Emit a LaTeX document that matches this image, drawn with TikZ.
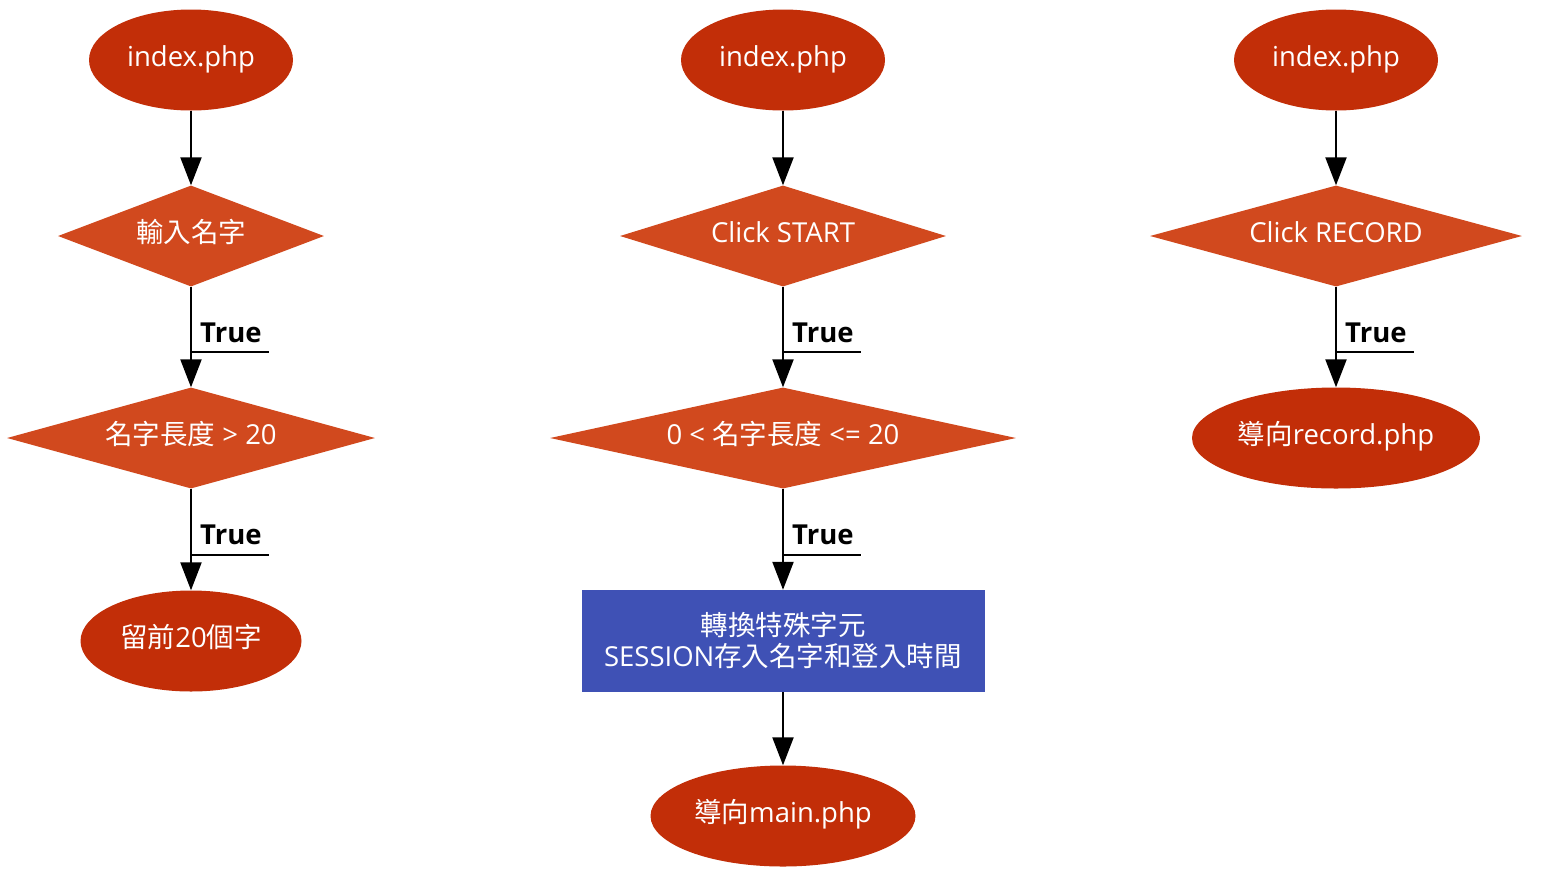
\documentclass[tikz,border=0pt]{standalone}
\usepackage{fontspec}
\setmainfont{Open Sans}
\newfontfamily\cjk{Noto Sans CJK TC}
\usetikzlibrary{shapes.geometric,arrows.meta}
\definecolor{ellc}{HTML}{C22E08}
\definecolor{diac}{HTML}{D1491E}
\definecolor{boxc}{HTML}{3F51B5}
\tikzset{
  base/.style={text=white, font=\fontsize{27.5}{31}\selectfont, inner sep=0pt, align=center},
  oneline/.style={text height=21pt, text depth=8.5pt},
  term/.style={base, oneline, ellipse, fill=ellc, minimum height=101pt},
  cond/.style={base, oneline, diamond, fill=diac, minimum height=101pt},
  proc/.style={base, rectangle, fill=boxc, minimum height=102pt},
  conn/.style={line width=2.2pt, -{Triangle[length=28pt,width=21pt]}},
  tlab/.style={font=\fontsize{27.5}{31}\selectfont\bfseries, inner sep=0pt, anchor=base west},
  uline/.style={line width=2pt}
}
\begin{document}
\begin{tikzpicture}[x=1pt,y=-1pt]
\useasboundingbox (0,0) rectangle (1544,892);
% column 1
\node[term, minimum width=204pt] (a1) at (191,60) {index.php};
\node[cond, minimum width=266pt, shape aspect=2.66] (a2) at (191,236) {{\cjk 輸入名字}};
\node[cond, minimum width=368pt, shape aspect=3.68] (a3) at (191,438) {{\cjk 名字長度} > 20};
\node[term, minimum width=221pt] (a4) at (191,641) {{\cjk 留前}20{\cjk 個字}};
\draw[conn] (a1) -- (a2);
\draw[conn] (a2) -- (a3);
\draw[conn] (a3) -- (a4);
\node[tlab] (ta2) at (200,342) {True};
\node[tlab] (ta3) at (200,544) {True};
\coordinate (ua2) at (191,352);
\coordinate (ua3) at (191,555);
\draw[uline] (ua2) -- ++(78,0);
\draw[uline] (ua3) -- ++(78,0);
% column 2
\node[term, minimum width=204pt] (b1) at (783,60) {index.php};
\node[cond, minimum width=326pt, shape aspect=3.26] (b2) at (783,236) {Click START};
\node[cond, minimum width=466pt, shape aspect=4.66] (b3) at (783,438) {0 < {\cjk 名字長度} <= 20};
\node[proc, minimum width=403pt] (b4) at (783,641) {{\cjk 轉換特殊字元}\\SESSION{\cjk 存入名字和登入時間}\\[-27pt]};
\node[term, minimum width=265pt] (b5) at (783,816) {{\cjk 導向}main.php};
\draw[conn] (b1) -- (b2);
\draw[conn] (b2) -- (b3);
\draw[conn] (b3) -- (b4);
\draw[conn] (b4) -- (b5);
\node[tlab] (tb2) at (792,342) {True};
\node[tlab] (tb3) at (792,544) {True};
\coordinate (ub2) at (783,352);
\coordinate (ub3) at (783,555);
\draw[uline] (ub2) -- ++(78,0);
\draw[uline] (ub3) -- ++(78,0);
% column 3
\node[term, minimum width=204pt] (c1) at (1336,60) {index.php};
\node[cond, minimum width=372pt, shape aspect=3.72] (c2) at (1336,236) {Click RECORD};
\node[term, minimum width=288pt] (c3) at (1336,438) {{\cjk 導向}record.php};
\draw[conn] (c1) -- (c2);
\draw[conn] (c2) -- (c3);
\node[tlab] (tc2) at (1345,342) {True};
\coordinate (uc2) at (1336,352);
\draw[uline] (uc2) -- ++(78,0);
\end{tikzpicture}
\end{document}
